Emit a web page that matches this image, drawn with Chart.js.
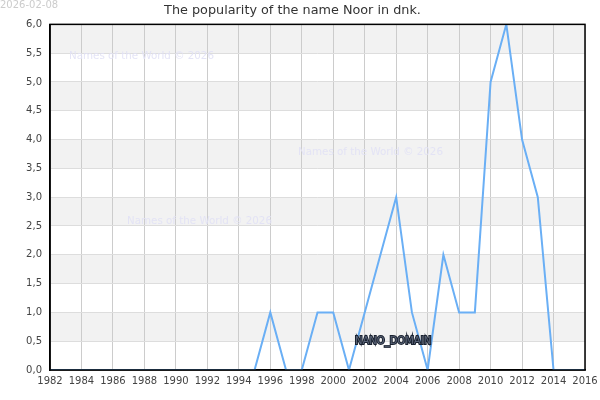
<!DOCTYPE html>
<html>
<head>
<meta charset="utf-8">
<script src="https://cdn.jsdelivr.net/npm/chart.js@4/dist/chart.umd.min.js"></script>
<style>
  html, body { margin: 0; padding: 0; background: #fff; }
  #wrap { width: 600px; height: 400px; }
</style>
</head>
<body>
<div id="wrap"><canvas id="grafico" width="600" height="400"></canvas></div>
<script>
// dados
const anos = [1982, 1983, 1984, 1985, 1986, 1987, 1988, 1989, 1990, 1991, 1992, 1993, 1994, 1995,
  1996, 1997, 1998, 1999, 2000, 2001, 2002, 2003, 2004, 2005, 2006, 2007, 2008, 2009, 2010,
  2011, 2012, 2013, 2014, 2015, 2016];
const valores = [0, 0, 0, 0, 0, 0, 0, 0, 0, 0, 0, 0, 0, 0,
  1, 0, 0, 1, 1, 0, 1, 2, 3, 1, 0, 2, 1, 1, 5,
  6, 4, 3, 0, 0, 0];
const titulo = 'The popularity of the name Noor in dnk.';
const marcaDagua = 'Names of the World © 2026';
const dataTexto = '2026-02-08';

const fonte = "'DejaVu Sans', sans-serif";

// faixas cinzas alternadas + moldura + textos extras
const fundoPlugin = {
  id: 'fundo',
  beforeDraw(chart) {
    const { ctx, chartArea: a, scales: { y } } = chart;
    ctx.save();
    for (let v = 6; v > 0; v -= 1) {
      const top = y.getPixelForValue(v);
      const bot = y.getPixelForValue(v - 0.5);
      ctx.fillStyle = '#f2f2f2';
      ctx.fillRect(a.left, top, a.right - a.left, bot - top);
    }
    ctx.restore();
  },
  afterDatasetsDraw(chart) {
    const { ctx, chartArea: a } = chart;
    ctx.save();
    ctx.strokeStyle = '#000';
    ctx.lineWidth = 1.5;
    ctx.strokeRect(a.left, a.top, a.right - a.left, a.bottom - a.top);

    ctx.font = '10.3px ' + fonte;
    ctx.fillStyle = 'rgba(225, 225, 245, 0.9)';
    ctx.textBaseline = 'middle';
    ctx.fillText(marcaDagua, 69, 56);
    ctx.fillText(marcaDagua, 298, 152);
    ctx.fillText(marcaDagua, 127, 221);

    ctx.font = '10px ' + fonte;
    ctx.fillStyle = '#cccccc';
    ctx.fillText(dataTexto, 0, 5);

    ctx.font = '10px ' + fonte;
    ctx.lineWidth = 2;
    ctx.strokeStyle = '#1a2230';
    ctx.strokeText('NANO_DOMAIN', 355, 341);
    ctx.fillStyle = '#5a6478';
    ctx.fillText('NANO_DOMAIN', 355, 341);
    ctx.restore();
  }
};

new Chart(document.getElementById('grafico'), {
  type: 'line',
  data: {
    datasets: [{
      data: anos.map((ano, i) => ({ x: ano, y: valores[i] })),
      borderColor: '#6aaff5',
      borderWidth: 2,
      pointRadius: 0,
      tension: 0,
      fill: false
    }]
  },
  options: {
    responsive: false,
    animation: false,
    devicePixelRatio: 1,
    layout: { padding: { left: 0, right: 15, top: 0, bottom: 0 } },
    plugins: {
      legend: { display: false },
      tooltip: { enabled: false },
      title: {
        display: true,
        text: titulo,
        color: '#333',
        font: { family: fonte, size: 12.8, weight: 'normal' },
        padding: { top: 3, bottom: 6 }
      }
    },
    scales: {
      x: {
        type: 'linear',
        min: 1982,
        max: 2016,
        ticks: {
          stepSize: 2,
          autoSkip: false,
          color: '#444',
          font: { family: fonte, size: 10 },
          maxRotation: 0,
          padding: 5,
          callback: (v) => String(v)
        },
        grid: { color: '#cccccc', drawTicks: false },
        border: { color: '#000', width: 1.5 },
        afterFit: (s) => { s.height = 30; s.paddingRight = 0; s.paddingLeft = 0; }
      },
      y: {
        min: 0,
        max: 6,
        ticks: {
          stepSize: 0.5,
          color: '#444',
          font: { family: fonte, size: 10 },
          padding: 8,
          callback: (v) => v.toFixed(1).replace('.', ',')
        },
        grid: { color: '#dddddd', drawTicks: false },
        border: { color: '#000', width: 1.5 },
        afterFit: (s) => { s.width = 50; }
      }
    }
  },
  plugins: [fundoPlugin]
});
</script>
</body>
</html>
